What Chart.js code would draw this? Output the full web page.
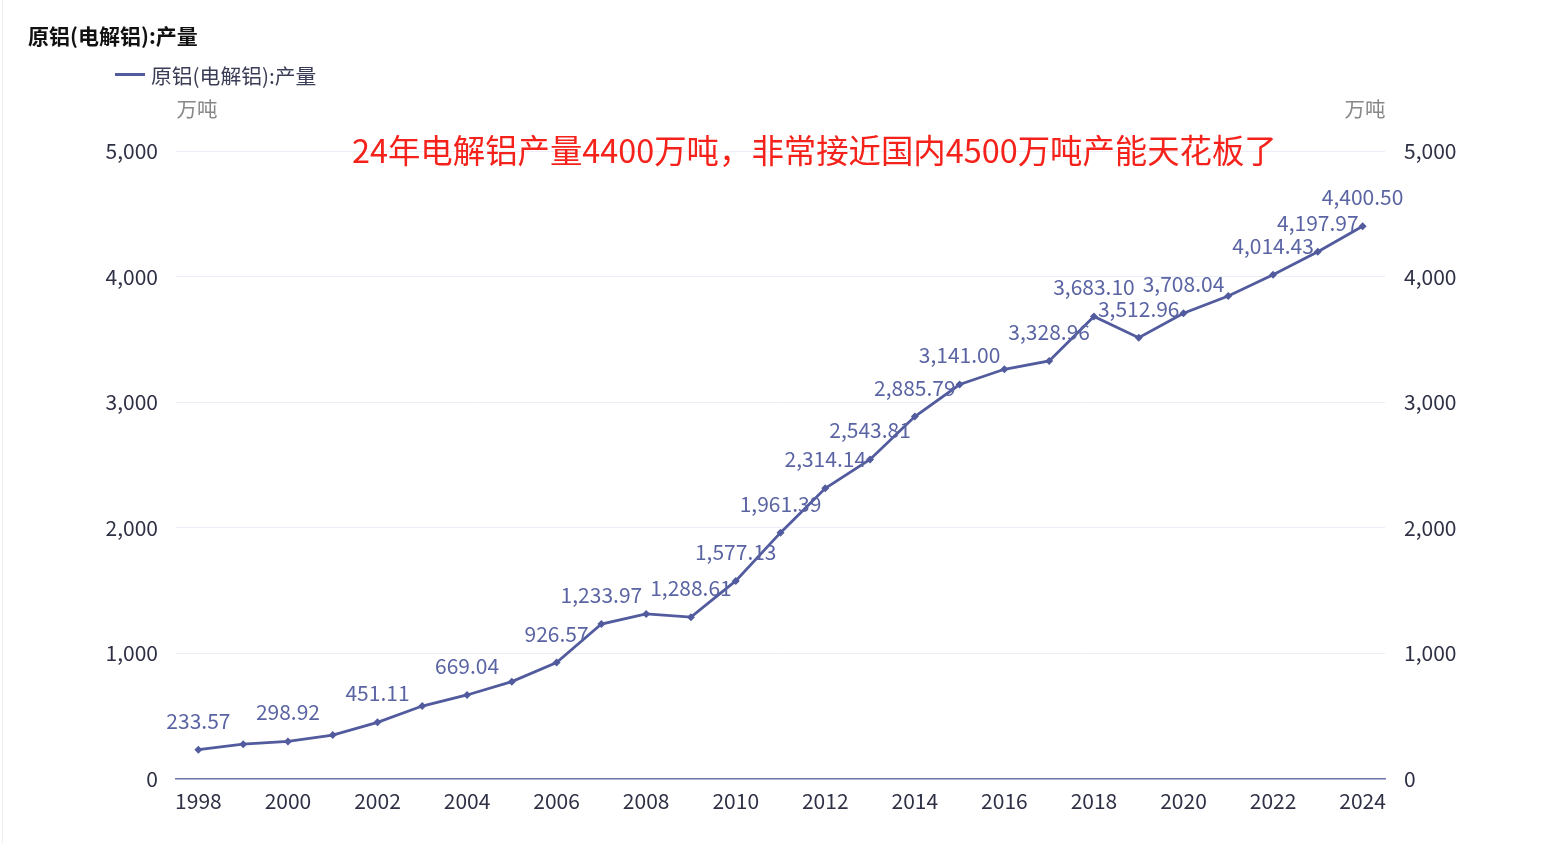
<!DOCTYPE html>
<html><head><meta charset="utf-8">
<script src="https://cdn.jsdelivr.net/npm/chart.js@4.4.0/dist/chart.umd.min.js"></script>
<style>
html,body{margin:0;padding:0;background:#fff;}
body{width:1555px;height:843px;position:relative;overflow:hidden;font-family:"Noto Sans CJK SC","Noto Sans",sans-serif;}
#wrap{position:absolute;left:0;top:0;width:1555px;height:843px;}
.t{position:absolute;white-space:nowrap;}
#edge{position:absolute;left:2px;top:0;width:1px;height:843px;background:#eceef4;}
</style></head>
<body>
<div id="edge"></div>
<div id="wrap"><canvas id="c" width="1555" height="843"></canvas></div>
<div class="t" style="left:28px;top:20px;font-size:21px;font-weight:bold;color:#111;">原铝(电解铝):产量</div>
<div style="position:absolute;left:115px;top:73px;width:30px;height:3px;background:#515b9d;"></div>
<div class="t" style="left:151px;top:60px;font-size:20.8px;color:#3a3d55;">原铝(电解铝):产量</div>
<div class="t" style="left:352px;top:125px;font-size:32.4px;color:#f5221b;">24年电解铝产量4400万吨，非常接近国内4500万吨产能天花板了</div>
<script>
const years = ['1998','1999','2000','2001','2002','2003','2004','2005','2006','2007','2008','2009','2010','2011','2012','2013','2014','2015','2016','2017','2018','2019','2020','2021','2022','2023','2024'];
const production = [233.57,277,298.92,350,451.11,581,669.04,775,926.57,1233.97,1314,1288.61,1577.13,1961.39,2314.14,2543.81,2885.79,3141.00,3262,3328.96,3683.10,3512.96,3708.04,3846,4014.43,4197.97,4400.50];
const showLabel = [1,0,1,0,1,0,1,0,1,1,0,1,1,1,1,1,1,1,0,1,1,1,1,0,1,1,1];
const yTicks = [0,1000,2000,3000,4000,5000];
const seriesName = '原铝(电解铝):产量';
const unit = '万吨';

const lineColor = '#515b9d';
const FONT = '"Noto Sans CJK SC","Noto Sans",sans-serif';

const labelPlugin = {
  id: 'pointLabels',
  afterDatasetsDraw(chart) {
    const ctx = chart.ctx;
    const meta = chart.getDatasetMeta(0);
    ctx.save();
    ctx.font = '21px ' + FONT;
    ctx.fillStyle = '#5a64a3';
    ctx.textAlign = 'center';
    ctx.textBaseline = 'middle';
    meta.data.forEach((pt, i) => {
      if (!showLabel[i]) return;
      const v = production[i].toLocaleString('en-US',{minimumFractionDigits:2,maximumFractionDigits:2});
      ctx.fillText(v, pt.x, pt.y - 29);
    });
    ctx.restore();
  }
};
const unitPlugin = {
  id: 'unitTitles',
  afterDraw(chart) {
    const ctx = chart.ctx, a = chart.chartArea;
    ctx.save();
    ctx.font = '20.5px ' + FONT;
    ctx.fillStyle = '#888';
    ctx.textAlign = 'center';
    ctx.textBaseline = 'middle';
    ctx.fillText(unit, a.left + 21, a.top - 42);
    ctx.fillText(unit, a.right - 20, a.top - 42);
    ctx.restore();
  }
};

new Chart(document.getElementById('c'), {
  type: 'line',
  data: {
    labels: years,
    datasets: [{
      label: seriesName,
      data: production,
      borderColor: lineColor,
      backgroundColor: lineColor,
      borderWidth: 2.8,
      pointStyle: 'rectRot',
      pointRadius: 4,
      pointBackgroundColor: lineColor,
      pointBorderWidth: 0,
      tension: 0,
      yAxisID: 'y'
    }]
  },
  options: {
    responsive: false,
    animation: false,
    devicePixelRatio: 1,
    layout: { padding: { left: 0, right: 0, top: 151, bottom: 24 } },
    plugins: { legend: { display: false }, title: { display: false }, tooltip: { enabled: false } },
    scales: {
      x: {
        type: 'category',
        offset: true,
        grid: { display: false, drawTicks: false },
        border: { display: true, color: '#6e78ac', width: 1.5 },
        ticks: {
          autoSkip: false, maxRotation: 0, padding: 9,
          color: '#2e3045', font: { size: 21, family: FONT },
          callback: function(v, i) { return i % 2 === 0 ? years[i] : ''; }
        },
        afterFit(s) { s.height = 40; }
      },
      y: {
        position: 'left', min: 0, max: 5000,
        afterBuildTicks(s) { s.ticks = yTicks.map(v => ({ value: v })); },
        grid: { color: '#eceef7', lineWidth: 1, drawTicks: false },
        border: { display: false },
        ticks: { padding: 18, color: '#2e3045', font: { size: 21, family: FONT },
          callback: v => v.toLocaleString('en-US') },
        afterFit(s) { s.width = 176; }
      },
      y2: {
        position: 'right', min: 0, max: 5000,
        afterBuildTicks(s) { s.ticks = yTicks.map(v => ({ value: v })); },
        grid: { display: false, drawTicks: false },
        border: { display: false },
        ticks: { padding: 19, color: '#2e3045', font: { size: 21, family: FONT },
          callback: v => v.toLocaleString('en-US') },
        afterFit(s) { s.width = 170; }
      }
    }
  },
  plugins: [labelPlugin, unitPlugin]
});
</script>
</body></html>
